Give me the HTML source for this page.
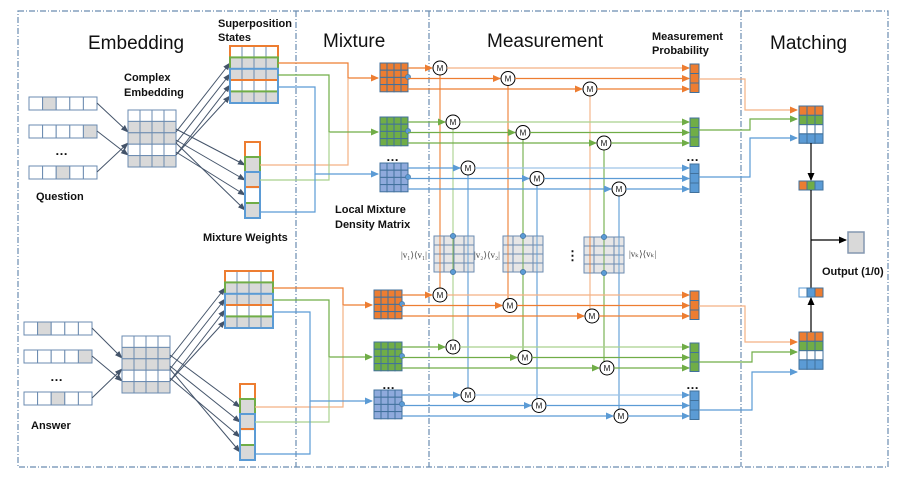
<!DOCTYPE html>
<html><head><meta charset="utf-8"><style>
html,body{margin:0;padding:0;background:#fff;width:900px;height:480px;overflow:hidden}
svg{display:block}
text{font-family:"Liberation Sans",sans-serif;fill:#111}
.b{font-weight:bold;font-size:11px}
.t{font-size:19px}
.s{font-family:"Liberation Serif",serif;font-size:9px;fill:#444}
</style></head><body>
<svg id="s" width="900" height="480" viewBox="0 0 900 480" xmlns="http://www.w3.org/2000/svg">
<defs>
<marker id="aO" markerWidth="8" markerHeight="8" refX="7" refY="4" orient="auto" markerUnits="userSpaceOnUse"><path d="M0,0.5 L8,4 L0,7.5Z" fill="#ed7d31"/></marker>
<marker id="aG" markerWidth="8" markerHeight="8" refX="7" refY="4" orient="auto" markerUnits="userSpaceOnUse"><path d="M0,0.5 L8,4 L0,7.5Z" fill="#70ad47"/></marker>
<marker id="aB" markerWidth="8" markerHeight="8" refX="7" refY="4" orient="auto" markerUnits="userSpaceOnUse"><path d="M0,0.5 L8,4 L0,7.5Z" fill="#5b9bd5"/></marker>
<marker id="aD" markerWidth="8" markerHeight="8" refX="7" refY="4" orient="auto" markerUnits="userSpaceOnUse"><path d="M0,1 L8,4 L0,7Z" fill="#44546a"/></marker>
<marker id="aK" markerWidth="8" markerHeight="8" refX="7" refY="4" orient="auto" markerUnits="userSpaceOnUse"><path d="M0,0.5 L8,4 L0,7.5Z" fill="#000"/></marker>
</defs>
<g id="g"></g>
<text class="t" x="88" y="49">Embedding</text>
<text class="t" x="323" y="47">Mixture</text>
<text class="t" x="487" y="47">Measurement</text>
<text class="t" x="770" y="49">Matching</text>
<text class="b" x="218" y="27">Superposition</text>
<text class="b" x="218" y="41">States</text>
<text class="b" x="124" y="81">Complex</text>
<text class="b" x="124" y="96">Embedding</text>
<text class="b" x="36" y="200">Question</text>
<text class="b" x="203" y="241">Mixture Weights</text>
<text class="b" x="335" y="213">Local Mixture</text>
<text class="b" x="335" y="228">Density Matrix</text>
<text class="b" x="652" y="40">Measurement</text>
<text class="b" x="652" y="54">Probability</text>
<text class="b" x="31" y="429">Answer</text>
<text class="b" x="822" y="275">Output (1/0)</text>
<text class="b" x="55" y="155" style="font-size:13px">…</text>
<text class="b" x="50" y="381" style="font-size:13px">…</text>
<text class="b" x="386" y="161" style="font-size:13px">…</text>
<text class="b" x="382" y="389" style="font-size:13px">…</text>
<text class="b" x="686" y="161" style="font-size:13px">…</text>
<text class="b" x="686" y="389" style="font-size:13px">…</text>
<text class="b" x="566" y="260" style="font-size:13px">⋮</text>
<text class="s" x="401" y="258">|v₁⟩⟨v₁|</text>
<text class="s" x="474" y="258">|v₂⟩⟨v₂|</text>
<text class="s" x="629" y="257">|vₖ⟩⟨vₖ|</text>
</svg>
<script>
var G=document.getElementById('g'),h='';
var O='#ed7d31',Gr='#70ad47',B='#5b9bd5',OL='#f4b183',GL='#a9d18e',BL='#9dc3e6',E='#6b8bb0';
function r(x,y,w,hh,f,s,sw){h+='<rect x="'+x+'" y="'+y+'" width="'+w+'" height="'+hh+'" fill="'+(f||'none')+'" stroke="'+(s||E)+'" stroke-width="'+(sw||1)+'"/>';}
function l(pts,c,m,sw){h+='<polyline points="'+pts+'" fill="none" stroke="'+c+'" stroke-width="'+(sw||1.2)+'"'+(m?' marker-end="url(#'+m+')"':'')+'/>';}
function grid(x,y,cols,rows,w,hh,fills,s){for(var j=0;j<rows;j++)for(var i=0;i<cols;i++){var f=typeof fills=='string'?fills:fills[j];r(x+i*w,y+j*hh,w,hh,f,s);}}
function M(x,y){h+='<circle cx="'+x+'" cy="'+y+'" r="7" fill="#fff" stroke="#000" stroke-width="1"/><text x="'+x+'" y="'+(y+3)+'" text-anchor="middle" style="font-size:8px">M</text>';}
function dot(x,y){h+='<circle cx="'+x+'" cy="'+y+'" r="2.6" fill="#5b9bd5" stroke="#41719c" stroke-width=".6"/>';}
// frames
var d='stroke="#6a8cb0" stroke-width="1.2" stroke-dasharray="6,2,1,2" fill="none"';
h+='<rect x="18" y="11" width="870" height="456" '+d+'/>';
[296,429,741].forEach(function(x){h+='<line x1="'+x+'" y1="11" x2="'+x+'" y2="467" '+d+'/>';});
var W='#fff',Gy='#d9d9d9';
function side(oy,ex,ey,rowsY,shade,cm,sup,wt,mixX,mat){
 // word rows
 rowsY.forEach(function(y,k){for(var i=0;i<5;i++)r(ex+i*13.6,y,13.6,13,i==shade[k]?Gy:W);});
 var cx=cm[0],cy=cm[1];
 // arrows word->complex
 l((ex+68)+','+(rowsY[0]+6)+' '+cx+','+(cy+22),'#44546a','aD',1);
 l((ex+68)+','+(rowsY[1]+6)+' '+cx+','+(cy+45),'#44546a','aD',1);
 l((ex+68)+','+(rowsY[2]+6)+' '+cx+','+(cy+33),'#44546a','aD',1);
 grid(cx,cy,4,5,12,11.4,[W,Gy,Gy,W,Gy]);
 var sx=sup[0],sy=sup[1];
 var ox=cx+48;
 [cy+22,cy+33,cy+45].forEach(function(yy,k){
  l(ox+','+yy+' '+sx+','+(sy+17+k*11),'#44546a','aD',1);
  l(ox+','+(yy-3)+' '+wt[0]+','+(wt[1]+23+k*15),'#44546a','aD',1);
 });
 l(ox+','+(cy+45)+' '+(sx)+','+(sy+28+22),'#44546a','aD',1);
 l(ox+','+(cy+33)+' '+wt[0]+','+(wt[1]+68),'#44546a','aD',1);
 grid(sx,sy,4,5,12,11.4,[W,Gy,Gy,W,Gy]);
 r(sx,sy,48,34,'none',O,2);r(sx,sy+11.4,48,34,'none',Gr,2);r(sx,sy+22.8,48,34.2,'none',B,2);
 var wx=wt[0],wy=wt[1];
 grid(wx,wy,1,5,15,15.2,[W,Gy,Gy,W,Gy]);
 r(wx,wy,15,45,'none',O,2);r(wx,wy+15,15,46,'none',Gr,2);r(wx,wy+30,15,46,'none',B,2);
 // mixture lines
 var m=mixX;
 l((sx+48)+','+(sy+17)+' '+m[0]+','+(sy+17)+' '+m[0]+','+(mat[0]+15)+' '+(mat[3]-2)+','+(mat[0]+15),O,'aO');
 l((wx+15)+','+(wy+23)+' '+m[0]+','+(wy+23)+' '+m[0]+','+(mat[0]+15),OL);
 l((sx+48)+','+(sy+29)+' '+m[1]+','+(sy+29)+' '+m[1]+','+(mat[1]+15)+' '+(mat[3]-2)+','+(mat[1]+15),Gr,'aG');
 l((wx+15)+','+(wy+38)+' '+m[1]+','+(wy+38)+' '+m[1]+','+(mat[1]+15),GL);
 l((sx+48)+','+(sy+41)+' '+m[2]+','+(sy+41)+' '+m[2]+','+(mat[2]+11)+' '+(mat[3]-2)+','+(mat[2]+11),B,'aB');
 l((wx+15)+','+(wy+70)+' '+m[2]+','+(wy+70)+' '+m[2]+','+(mat[2]+11),B);
}
side(0,29,0,[97,125,166],[1,4,2],[128,110],[230,46],[245,142],[348,329,315],[63,117,163,380]);
side(0,24,0,[322,350,392],[1,4,2],[122,336],[225,271],[240,384],[343,329,310],[290,342,390,374]);
// mixture matrices and measurement
function meas(mx,ys,col,colL,dark,Ms,px){
 ys.forEach(function(y0,idx){
  var c=[O,Gr,'#8faadc'][idx],lc=[O,Gr,B][idx],ll=[OL,GL,BL][idx],mk=['aO','aG','aB'][idx];
  grid(mx,y0,4,4,7,7.2,c,'#41719c');dot(mx+28,y0+14);
  for(var k=0;k<3;k++){var yy=y0+5+k*10.5;var m=Ms[idx][k];
   l((mx+28)+','+yy+' '+(m-8)+','+yy,lc,mk);M(m,yy);
   l((m+7)+','+yy+' '+(px-1)+','+yy,k==0?ll:lc,mk);}
  grid(px,y0+1,1,3,9,9.5,lc,'#41719c');
 });
}
// projector vertical lines
var P=[[434,236],[503,236],[584,237]];
var VX=[[440,453,468],[508,523,537],[590,604,619]];
var topY=[[68,119,166],[79,130,177],[89,140,187]];
var botY=[[297,352,400],[308,363,411],[319,373,422]];
for(var p=0;p<3;p++){for(var k=0;k<3;k++){var c=[O,Gr,B][k];if(p==0&&k==1)c=GL;if(p==2&&k==0)c=OL;l(VX[p][k]+','+topY[p][k]+' '+VX[p][k]+','+botY[p][k],c,null,1.1);}}
meas(380,[63,117,163],0,0,0,[[440,508,590],[453,523,604],[468,537,619]],690);
meas(374,[290,342,390],0,0,0,[[440,510,592],[453,525,607],[468,539,621]],690);
P.forEach(function(q,i){grid(q[0],q[1],4,4,10,9,'#e7e6e6');dot(VX[i][1],q[1]);dot(VX[i][1],q[1]+36);});
// re-draw vertical lines over projectors
for(var p=0;p<3;p++){for(var k=0;k<3;k++){var c=[O,Gr,B][k];l(VX[p][k]+','+(P[p][1])+' '+VX[p][k]+','+(P[p][1]+36),c,null,0.9);}dot(VX[p][1],P[p][1]);dot(VX[p][1],P[p][1]+36);}
// matching
l('699,79 745,79 745,110 797,110',OL,'aO');
l('699,130 750,130 750,119 797,119',Gr,'aG');
l('699,177 750,177 750,138 797,138',B,'aB');
l('699,306 745,306 745,342 797,342',OL,'aO');
l('699,362 752,362 752,352 797,352',Gr,'aG');
l('699,410 752,410 752,372 797,372',B,'aB');
function mm(y){grid(799,y,3,4,8,9.3,'#fff','#41719c');for(var i=0;i<3;i++){r(799+i*8,y,8,9.3,O,'#41719c');r(799+i*8,y+9.3,8,9.3,Gr,'#41719c');r(799+i*8,y+27.9,8,9.3,B,'#41719c');}}
mm(106);mm(332);
l('811,143 811,180','#000','aK');
r(799,181,8,9,O,'#41719c');r(807,181,8,9,Gr,'#41719c');r(815,181,8,9,B,'#41719c');
l('811,190 811,288','#000');
l('811,240 846,240','#000','aK');
r(848,232,16,21,'#d9d9d9','#8497b0',1.5);
l('811,332 811,298','#000','aK');
r(799,288,8,9,'#fff',B);r(807,288,8,9,B,'#41719c');r(815,288,8,9,O,'#41719c');
G.innerHTML=h;
</script>
</body></html>
